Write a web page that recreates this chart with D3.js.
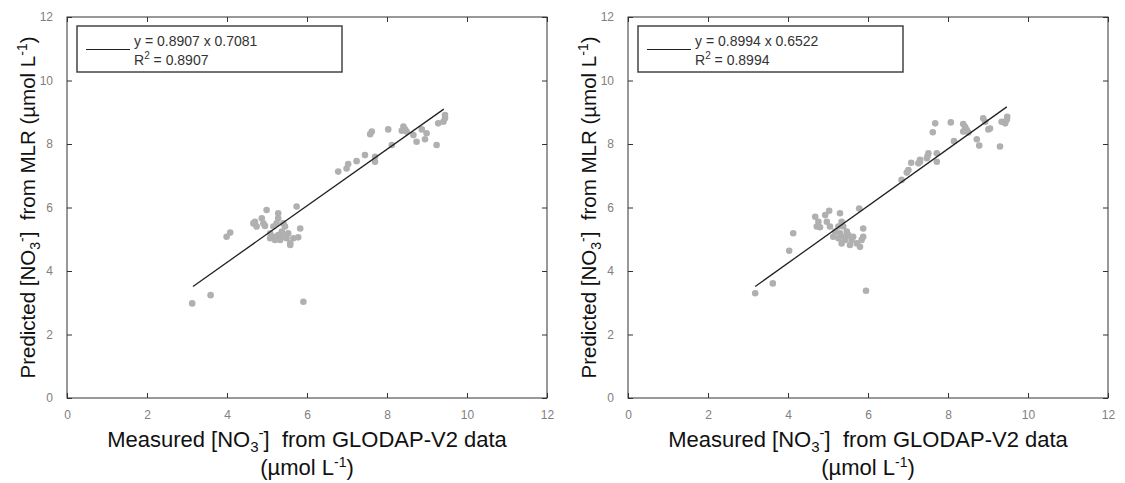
<!DOCTYPE html>
<html>
<head>
<meta charset="utf-8">
<script src="https://cdn.jsdelivr.net/npm/d3@7/dist/d3.min.js"></script>
<style>
  html, body { margin: 0; padding: 0; background: #fff; }
  svg { display: block; font-family: "Liberation Sans", Arial, sans-serif; }
  text { white-space: pre; }
</style>
</head>
<body>
<svg id="chart" width="1125" height="483"></svg>
<script>
// ---- data ----
const axisTicks = [0, 2, 4, 6, 8, 10, 12];

const leftMeasured = [3.13,3.59,5.91,3.99,4.08,4.99,5.74,4.70,4.66,4.74,4.87,4.91,4.95,5.28,5.28,5.24,5.16,5.41,5.45,5.83,
  5.08,5.16,5.28,5.20,5.33,5.41,5.49,5.58,5.53,5.66,5.37,5.08,5.78,5.58,
  6.78,6.99,7.03,7.24,7.45,7.70,7.70,7.62,7.58,
  8.03,8.41,8.45,8.37,8.49,8.66,8.87,8.99,8.74,8.95,9.24,8.12,9.28,9.41,9.45,9.45];
const leftPredicted = [2.98,3.24,3.03,5.08,5.21,5.92,6.03,5.55,5.50,5.40,5.66,5.50,5.42,5.82,5.66,5.50,5.40,5.50,5.40,5.34,
  5.19,5.08,5.13,4.98,4.98,5.08,5.03,4.87,5.19,5.03,5.24,5.03,5.06,4.82,
  7.13,7.23,7.37,7.46,7.65,7.60,7.44,8.39,8.31,
  8.46,8.55,8.46,8.42,8.39,8.28,8.46,8.34,8.07,8.15,7.97,7.97,8.65,8.70,8.81,8.91];

const rightMeasured = [3.18,3.62,5.95,4.03,4.13,5.03,5.78,4.68,4.76,4.72,4.93,4.80,5.30,4.97,5.05,5.34,5.26,5.38,5.88,
  5.18,5.30,5.47,5.13,5.38,5.51,5.26,5.43,5.59,5.63,5.34,5.55,5.72,5.80,5.84,5.88,
  6.84,6.97,7.01,7.08,7.26,7.30,7.30,7.47,7.51,7.72,7.72,7.49,
  7.68,7.62,8.07,8.38,8.43,8.47,8.38,8.51,8.72,8.88,8.93,9.01,9.05,8.78,9.30,8.15,9.34,9.47,9.48,9.43];
const rightPredicted = [3.30,3.61,3.38,4.64,5.19,5.90,5.97,5.71,5.55,5.40,5.76,5.38,5.82,5.55,5.40,5.55,5.40,5.40,5.34,
  5.24,5.19,5.24,5.08,5.08,5.13,5.03,4.98,4.98,5.08,4.87,4.82,4.87,4.76,4.98,5.08,
  6.87,7.10,7.18,7.41,7.39,7.50,7.44,7.55,7.71,7.71,7.44,7.62,
  8.65,8.37,8.68,8.63,8.53,8.44,8.39,8.36,8.15,8.81,8.70,8.46,8.49,7.95,7.92,8.09,8.70,8.76,8.86,8.65];

const fitSlopes = [0.8907, 0.8994];
const fitIntercepts = [0.7081, 0.6522];
const fitR2 = ["0.8907", "0.8994"];
const fitXRange = [[3.15, 9.42], [3.18, 9.47]];

// ---- drawing ----
const svg = d3.select("#chart");
const panels = [
  { x0: 67, x1: 547, mx: leftMeasured, my: leftPredicted, i: 0 },
  { x0: 628, x1: 1108, mx: rightMeasured, my: rightPredicted, i: 1 }
];
const yTop = 17, yBot = 398;
const frameColor = "#333";
const tickColor = "#808080";

panels.forEach(p => {
  const x = d3.scaleLinear().domain([0, 12]).range([p.x0, p.x1]);
  const y = d3.scaleLinear().domain([0, 12]).range([yBot, yTop]);
  const g = svg.append("g");

  const styleAxis = sel => {
    sel.select(".domain").remove();
    sel.selectAll(".tick line").attr("stroke", frameColor);
    sel.selectAll(".tick text").attr("fill", tickColor)
      .style("font-family", "Liberation Sans, Arial, sans-serif").style("font-size", "12px");
  };
  g.append("g").attr("transform", `translate(0,${yBot})`)
    .call(d3.axisBottom(x).tickValues(axisTicks).tickSize(-5).tickPadding(12).tickFormat(d3.format("d")))
    .call(styleAxis);
  g.append("g").attr("transform", `translate(0,${yTop})`)
    .call(d3.axisTop(x).tickValues(axisTicks).tickSize(-5).tickFormat(""))
    .call(styleAxis);
  g.append("g").attr("transform", `translate(${p.x0},0)`)
    .call(d3.axisLeft(y).tickValues(axisTicks).tickSize(-5).tickPadding(14).tickFormat(d3.format("d")))
    .call(styleAxis);
  g.append("g").attr("transform", `translate(${p.x1},0)`)
    .call(d3.axisRight(y).tickValues(axisTicks).tickSize(-5).tickFormat(""))
    .call(styleAxis);

  g.append("rect")
    .attr("x", x(0)).attr("y", y(12))
    .attr("width", x(12) - x(0)).attr("height", y(0) - y(12))
    .attr("fill", "none").attr("stroke", frameColor).attr("stroke-width", 1);

  const pts = p.mx.map((v, k) => [v, p.my[k]]);
  g.append("g").selectAll("circle").data(pts).join("circle")
    .attr("cx", d => x(d[0])).attr("cy", d => y(d[1]))
    .attr("r", 3.3).attr("fill", "#b0b0b0");

  const s = fitSlopes[p.i], b = fitIntercepts[p.i];
  const xr = fitXRange[p.i];
  g.append("line")
    .attr("x1", x(xr[0])).attr("y1", y(s * xr[0] + b))
    .attr("x2", x(xr[1])).attr("y2", y(s * xr[1] + b))
    .attr("stroke", "#222").attr("stroke-width", 1.3);

  const lx = x(0) + 10, ly = 26;
  g.append("rect").attr("x", lx).attr("y", ly).attr("width", 265).attr("height", 46)
    .attr("fill", "#fff").attr("stroke", "#444").attr("stroke-width", 1.5);
  g.append("line").attr("x1", lx + 9).attr("x2", lx + 53).attr("y1", ly + 23.5).attr("y2", ly + 23.5)
    .attr("stroke", "#222").attr("stroke-width", 1.2);
  g.append("text").attr("x", lx + 57).attr("y", ly + 20)
    .attr("font-size", 14).attr("fill", "#333")
    .text(`y = ${s.toFixed(4)} x ${b.toFixed(4)}`);
  const r2 = g.append("text").attr("x", lx + 57).attr("y", ly + 39)
    .attr("font-size", 14).attr("fill", "#333");
  r2.append("tspan").text("R");
  r2.append("tspan").attr("font-size", 10).attr("dy", -6).text("2");
  r2.append("tspan").attr("dy", 6).text(` = ${fitR2[p.i]}`);

  const cx = (p.x0 + p.x1) / 2;
  const xl = g.append("text").attr("x", cx).attr("y", 447).attr("text-anchor", "middle")
    .attr("font-size", 22).attr("fill", "#111");
  xl.append("tspan").text("Measured [NO");
  xl.append("tspan").attr("font-size", 15).attr("dy", 5).text("3");
  xl.append("tspan").attr("font-size", 15).attr("dy", -14).text("-");
  xl.append("tspan").attr("dy", 9).text("]  from GLODAP-V2 data");
  const xl2 = g.append("text").attr("x", cx).attr("y", 475).attr("text-anchor", "middle")
    .attr("font-size", 22).attr("fill", "#111");
  xl2.append("tspan").text("(µmol L");
  xl2.append("tspan").attr("font-size", 14).attr("dy", -8).text("-1");
  xl2.append("tspan").attr("dy", 8).text(")");

  const cy = (yTop + yBot) / 2;
  const yl = g.append("text")
    .attr("transform", `translate(${p.x0 - 32},${cy}) rotate(-90)`)
    .attr("text-anchor", "middle").attr("font-size", 20.5).attr("fill", "#111");
  yl.append("tspan").text("Predicted [NO");
  yl.append("tspan").attr("font-size", 14).attr("dy", 5).text("3");
  yl.append("tspan").attr("font-size", 14).attr("dy", -13).text("-");
  yl.append("tspan").attr("dy", 8).text("]  from MLR (µmol L");
  yl.append("tspan").attr("font-size", 14).attr("dy", -8).text("-1");
  yl.append("tspan").attr("dy", 8).text(")");
});
</script>
</body>
</html>
